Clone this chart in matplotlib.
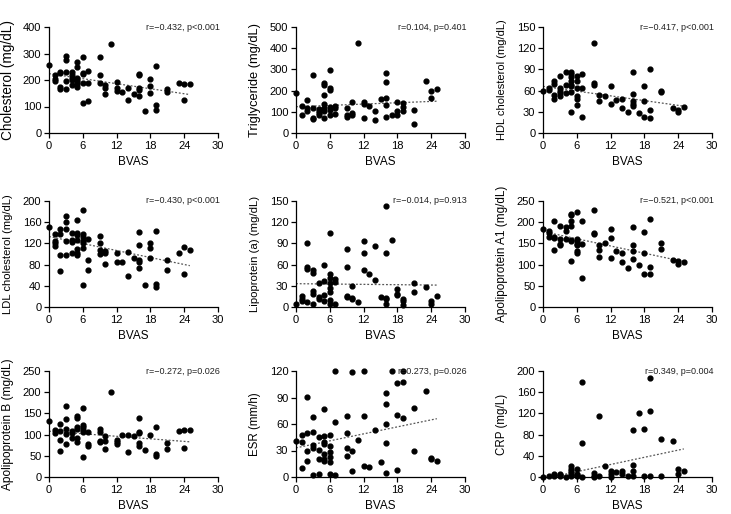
import numpy as np
import matplotlib.pyplot as plt

plt.rcParams['font.family'] = ['Liberation Sans', 'DejaVu Sans']

# Cholesterol
chol_x = [0, 1, 1, 1, 2, 2, 2, 2, 3, 3, 3, 3, 3, 4, 4, 4, 4, 4,
          5, 5, 5, 5, 5, 5, 5, 6, 6, 6, 6, 6, 7, 7, 7, 9, 9, 9,
          10, 10, 10, 11, 12, 12, 12, 13, 14, 14, 15, 16, 16, 16, 16, 16,
          17, 18, 18, 18, 19, 19, 19, 21, 21, 23, 24, 24, 25]
chol_y = [257, 218, 205, 196, 231, 225, 172, 165, 290, 277, 229, 196, 165,
          229, 217, 206, 200, 181, 269, 250, 209, 200, 194, 184, 172,
          285, 227, 221, 187, 112, 235, 190, 119, 285, 220, 190,
          181, 171, 146, 337, 194, 169, 159, 154, 169, 125, 146,
          224, 219, 169, 161, 141, 84, 205, 177, 150, 252, 106, 86,
          166, 156, 187, 184, 125, 184]

# Triglyceride
tg_x = [0, 1, 1, 2, 2, 2, 3, 3, 3, 3, 4, 4, 4, 4, 5, 5, 5, 5, 5, 5, 5,
        6, 6, 6, 6, 6, 6, 7, 7, 7, 9, 9, 9, 10, 10, 10, 11, 12, 12, 12,
        13, 14, 14, 15, 16, 16, 16, 16, 16, 17, 18, 18, 18, 19, 19, 19,
        21, 21, 23, 24, 24, 25]
tg_y = [191, 127, 83, 158, 120, 103, 275, 117, 72, 66, 114, 105, 94, 83,
        234, 225, 178, 137, 117, 103, 73, 295, 212, 203, 122, 108, 86,
        128, 117, 88, 116, 84, 77, 144, 92, 83, 425, 147, 137, 69,
        128, 105, 59, 161, 283, 239, 163, 134, 77, 84, 147, 106, 86,
        141, 122, 103, 109, 42, 247, 200, 167, 209]

# HDL cholesterol
hdl_x = [0, 1, 1, 2, 2, 2, 2, 3, 3, 3, 3, 3, 4, 4, 4,
         5, 5, 5, 5, 5, 5, 5, 5, 6, 6, 6, 6, 6, 6, 7, 7, 7, 9, 9, 9,
         10, 10, 11, 12, 12, 13, 14, 14, 15, 16, 16, 16, 16, 16, 17,
         18, 18, 18, 19, 19, 19, 21, 21, 23, 24, 24, 25]
hdl_y = [60, 64, 61, 73, 69, 54, 48, 81, 63, 60, 56, 52, 86, 68, 57,
         87, 83, 79, 73, 68, 66, 58, 30, 81, 73, 64, 52, 48, 39, 83, 64, 22,
         127, 71, 68, 54, 45, 52, 67, 41, 47, 48, 35, 30, 87, 55, 45, 41, 38,
         28, 66, 45, 23, 90, 32, 21, 60, 58, 35, 33, 30, 37]

# LDL cholesterol
ldl_x = [0, 1, 1, 1, 1, 2, 2, 2, 2, 3, 3, 3, 3, 3, 4, 4, 4, 4,
         5, 5, 5, 5, 5, 5, 5, 6, 6, 6, 6, 6, 6, 6, 7, 7, 7,
         9, 9, 9, 9, 10, 10, 10, 12, 12, 13, 14, 14, 15, 16, 16, 16, 16, 16,
         17, 18, 18, 18, 19, 19, 19, 21, 21, 23, 24, 24, 25]
ldl_y = [151, 137, 125, 121, 116, 148, 138, 99, 67, 172, 161, 148, 125, 99,
         139, 126, 122, 102, 165, 140, 136, 127, 110, 101, 98,
         183, 137, 133, 124, 120, 111, 42, 129, 89, 70,
         134, 121, 107, 100, 105, 101, 82, 102, 84, 84, 103, 58, 93,
         141, 117, 88, 84, 73, 42, 121, 112, 93, 144, 43, 38, 89, 70,
         102, 114, 63, 107]

# Lipoprotein (a)
lpa_x = [0, 1, 1, 1, 2, 2, 2, 2, 3, 3, 3, 3, 3, 4, 4, 4, 5, 5, 5, 5,
         6, 6, 6, 6, 6, 6, 6, 6, 7, 7, 7, 9, 9, 9, 9, 10, 10, 10, 11,
         12, 12, 12, 13, 14, 14, 15, 16, 16, 16, 16, 16, 17, 18, 18, 18,
         19, 19, 19, 21, 21, 23, 24, 24, 25]
lpa_y = [4, 16, 11, 9, 90, 56, 54, 7, 52, 48, 23, 19, 4, 34, 14, 12,
         60, 37, 17, 9, 105, 46, 41, 34, 27, 21, 10, 4, 40, 36, 4,
         82, 57, 16, 14, 30, 13, 11, 7, 93, 76, 53, 46, 86, 38, 14,
         143, 77, 13, 11, 4, 95, 26, 18, 17, 11, 8, 3, 34, 21, 28, 8, 4, 16]

# Apolipoprotein A1
apoa_x = [0, 1, 1, 1, 2, 2, 2, 2, 3, 3, 3, 3, 4, 4, 4,
          5, 5, 5, 5, 5, 5, 5, 6, 6, 6, 6, 6, 6, 6, 7, 7, 7, 9, 9, 9,
          10, 10, 10, 11, 12, 12, 12, 13, 14, 14, 15, 16, 16, 16, 16, 17,
          18, 18, 18, 19, 19, 19, 21, 21, 23, 24, 24, 25]
apoa_y = [183, 180, 175, 166, 202, 166, 163, 134, 190, 160, 149, 146,
          188, 180, 160, 219, 216, 204, 190, 159, 156, 108,
          223, 160, 156, 148, 146, 131, 128, 202, 148, 68, 229, 175, 172,
          146, 134, 118, 151, 183, 163, 115, 132, 127, 107, 93,
          188, 147, 133, 113, 98, 177, 128, 77, 208, 94, 78, 151, 137,
          112, 109, 102, 107]

# Apolipoprotein B
apob_x = [0, 1, 1, 2, 2, 2, 2, 3, 3, 3, 3, 3, 4, 4, 4,
          5, 5, 5, 5, 5, 5, 6, 6, 6, 6, 6, 6, 7, 7, 7, 9, 9, 9, 9,
          10, 10, 10, 11, 12, 12, 12, 13, 14, 14, 15, 16, 16, 16, 16, 16,
          17, 18, 19, 19, 19, 21, 21, 23, 24, 24, 25]
apob_y = [133, 110, 103, 125, 109, 88, 62, 167, 136, 114, 102, 78,
          108, 103, 92, 143, 140, 119, 114, 92, 82, 162, 123, 118, 112, 105, 47,
          106, 78, 74, 114, 107, 86, 82, 96, 85, 67, 201, 88, 83, 78, 98,
          98, 59, 97, 138, 107, 103, 80, 74, 64, 99, 118, 54, 49, 81, 67,
          109, 111, 69, 111]

# ESR
esr_x = [0, 1, 1, 1, 2, 2, 2, 2, 3, 3, 3, 3, 3, 4, 4, 4, 4,
         5, 5, 5, 5, 5, 5, 5, 6, 6, 6, 6, 6, 6, 7, 7, 7, 9, 9, 9, 9,
         10, 10, 10, 11, 12, 12, 12, 13, 14, 15, 16, 16, 16, 16, 16, 17,
         18, 18, 18, 19, 19, 19, 21, 21, 23, 24, 24, 25]
esr_y = [41, 47, 40, 10, 91, 50, 30, 18, 68, 51, 36, 33, 2, 45, 31, 20, 3,
         77, 46, 40, 37, 26, 20, 18, 47, 35, 28, 23, 17, 3, 120, 62, 2,
         69, 50, 33, 24, 119, 29, 7, 42, 120, 69, 12, 11, 53, 17,
         95, 83, 60, 38, 4, 120, 106, 70, 8, 120, 108, 67, 78, 30, 97,
         22, 20, 18]

# CRP
crp_x = [0, 1, 2, 2, 3, 3, 3, 4, 5, 5, 5, 5, 5, 5, 6, 6, 6, 6,
         7, 7, 7, 9, 9, 9, 10, 10, 11, 12, 12, 12, 13, 14, 14, 15,
         16, 16, 16, 16, 17, 18, 18, 19, 19, 19, 21, 21, 23, 24, 24, 25]
crp_y = [0, 2, 2, 5, 3, 6, 1, 0, 21, 16, 12, 7, 4, 1, 15, 6, 3, 1,
         179, 65, 0, 7, 2, 0, 115, 2, 20, 11, 5, 0, 9, 11, 6, 2,
         89, 22, 11, 2, 120, 90, 2, 186, 125, 2, 71, 2, 67, 15, 6, 11]

# dotted trend lines: (x start, y start, x end, y end)
chol_fit = (0, 224, 25, 145)
tg_fit = (0, 124, 25, 150)
hdl_fit = (0, 66, 25, 38)
ldl_fit = (0, 133, 25, 78)
lpa_fit = (0, 33, 25, 31)
apoa_fit = (0, 178, 25, 107)
apob_fit = (0, 108, 25, 83)
esr_fit = (0, 33, 25, 66)
crp_fit = (2, 1, 25, 53)

labels = ['Cholesterol (mg/dL)', 'Triglyceride (mg/dL)', 'HDL cholesterol (mg/dL)',
          'LDL cholesterol (mg/dL)', 'Lipoprotein (a) (mg/dL)', 'Apolipoprotein A1 (mg/dL)',
          'Apolipoprotein B (mg/dL)', 'ESR (mm/h)', 'CRP (mg/L)']
stats = ['r=\u22120.432, p<0.001', 'r=0.104, p=0.401', 'r=\u22120.417, p<0.001',
         'r=\u22120.430, p<0.001', 'r=\u22120.014, p=0.913', 'r=\u22120.521, p<0.001',
         'r=\u22120.272, p=0.026', 'r=0.273, p=0.026', 'r=0.349, p=0.004']
ymax = [400, 500, 150, 200, 150, 250, 250, 120, 200]
ystep = [100, 100, 30, 40, 30, 50, 50, 30, 40]
label_size = [9.8, 9.3, 8.0, 8.1, 8.2, 8.5, 8.6, 8.3, 8.3]

xs = [chol_x, tg_x, hdl_x, ldl_x, lpa_x, apoa_x, apob_x, esr_x, crp_x]
ys = [chol_y, tg_y, hdl_y, ldl_y, lpa_y, apoa_y, apob_y, esr_y, crp_y]
fits = [chol_fit, tg_fit, hdl_fit, ldl_fit, lpa_fit, apoa_fit, apob_fit, esr_fit, crp_fit]

W, H = 731, 514
fig = plt.figure(figsize=(W / 100, H / 100), dpi=100)
lefts = [49, 296, 543]
bottoms = [133, 307, 477]

for i in range(9):
    r, c = divmod(i, 3)
    ax = fig.add_axes([lefts[c] / W, 1 - bottoms[r] / H, 169 / W, 106 / H])
    x0, y0, x1, y1 = fits[i]
    ax.plot([x0, x1], [y0, y1], ls=(0, (1.5, 1.5)), color='#555555', lw=0.9, zorder=2)
    ax.scatter(xs[i], ys[i], s=12, color='black', zorder=3, clip_on=False)
    ax.set_xlim(0, 30)
    ax.set_ylim(0, ymax[i])
    ax.set_xticks(np.arange(0, 31, 6))
    ax.set_yticks(np.arange(0, ymax[i] + 1, ystep[i]))
    for s in ['top', 'right']:
        ax.spines[s].set_visible(False)
    for s in ['left', 'bottom']:
        ax.spines[s].set_linewidth(0.9)
    ax.tick_params(labelsize=8, length=3.5, width=0.9, pad=2)
    ax.set_xlabel('BVAS', fontsize=8.5, labelpad=4)
    ax.set_ylabel(labels[i], fontsize=label_size[i], va='center')
    ax.yaxis.set_label_coords(-41 / 169, 0.5)
    ax.text(1.01, 1.0, stats[i], transform=ax.transAxes, ha='right', va='center',
            fontsize=6.5, color='#222222')

fig.savefig('out.png', dpi=100)
